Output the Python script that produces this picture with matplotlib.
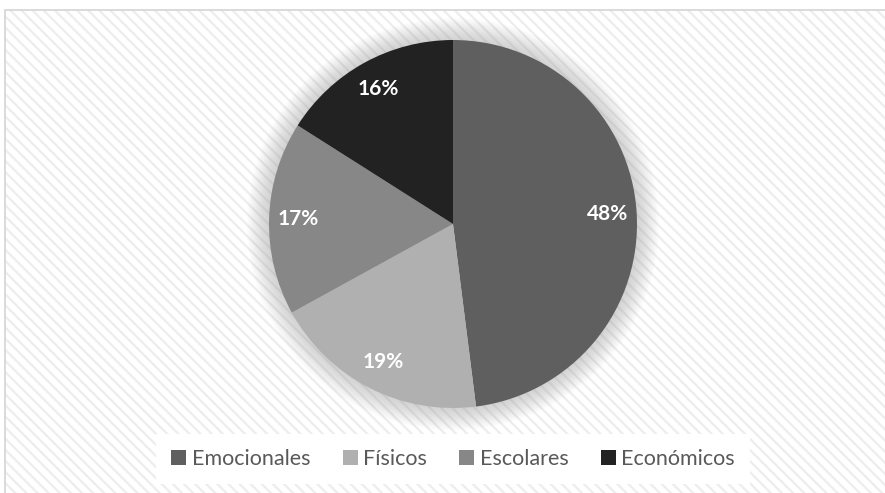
import matplotlib.pyplot as plt
from matplotlib.patches import Rectangle, Circle, Patch

# Data
categorias = ['Emocionales', 'Físicos', 'Escolares', 'Económicos']
porcentajes = [48, 19, 17, 16]
colores = ['#5f5f5f', '#b0b0b0', '#878787', '#222222']

plt.rcParams['font.family'] = ['Lato', 'DejaVu Sans']
plt.rcParams['hatch.linewidth'] = 1.6

W, H = 885, 493
fig = plt.figure(figsize=(W / 100, H / 100), dpi=100)

# Hatched chart area background with border
bg = Rectangle((5 / W, 0), 1 - 5 / W, (H - 10) / H, transform=fig.transFigure,
               facecolor='white', edgecolor='#ededed', hatch='\\\\\\', lw=0, zorder=-2)
fig.patches.append(bg)
border = Rectangle((5 / W, -0.01), 1.0, (H - 10) / H + 0.01, transform=fig.transFigure,
                   facecolor='none', edgecolor='#d4d4d4', lw=1.2, zorder=-1)
fig.patches.append(border)

# Pie axes (center at (453, 224) px, radius ~184 px)
cx, cy, r = 453, 224, 184
lim = 1.3
half = r * lim
ax = fig.add_axes([(cx - half) / W, (H - cy - half) / H, 2 * half / W, 2 * half / H])
ax.patch.set_visible(False)

# Soft shadow around pie
n = 16
for i in range(n):
    rad = 1.0 + 0.12 * (n - i) / n
    ax.add_patch(Circle((0, 0.0), rad, facecolor='#a0a0a0', edgecolor='none',
                        alpha=0.03, zorder=1))

wedges, texts, autotexts = ax.pie(
    porcentajes, colors=colores, startangle=90, counterclock=False,
    autopct='%1.0f%%', pctdistance=0.84, radius=1.0,
    wedgeprops=dict(edgecolor='none', linewidth=0),
    textprops=dict(color='white', fontsize=15, fontweight='bold'))
for w in wedges:
    w.set_zorder(2)
for t in autotexts:
    t.set_zorder(3)

ax.set_xlim(-lim, lim)
ax.set_ylim(-lim, lim)
ax.set_aspect('equal')
ax.axis('off')

# Legend
handles = [Patch(facecolor=c, edgecolor='none') for c in colores]
leg = fig.legend(handles, categorias, loc='center', bbox_to_anchor=(453 / W, 1 - 459 / H),
                 ncol=4, frameon=True, fontsize=15.5, handlelength=0.7, handleheight=0.7,
                 handletextpad=0.25, columnspacing=1.5, borderpad=0.7, labelcolor='#595959')
leg.get_frame().set_facecolor('white')
leg.get_frame().set_edgecolor('none')
leg.get_frame().set_alpha(1)
leg.get_frame().set_boxstyle('square', pad=0)

fig.savefig('out.png', dpi=100)
